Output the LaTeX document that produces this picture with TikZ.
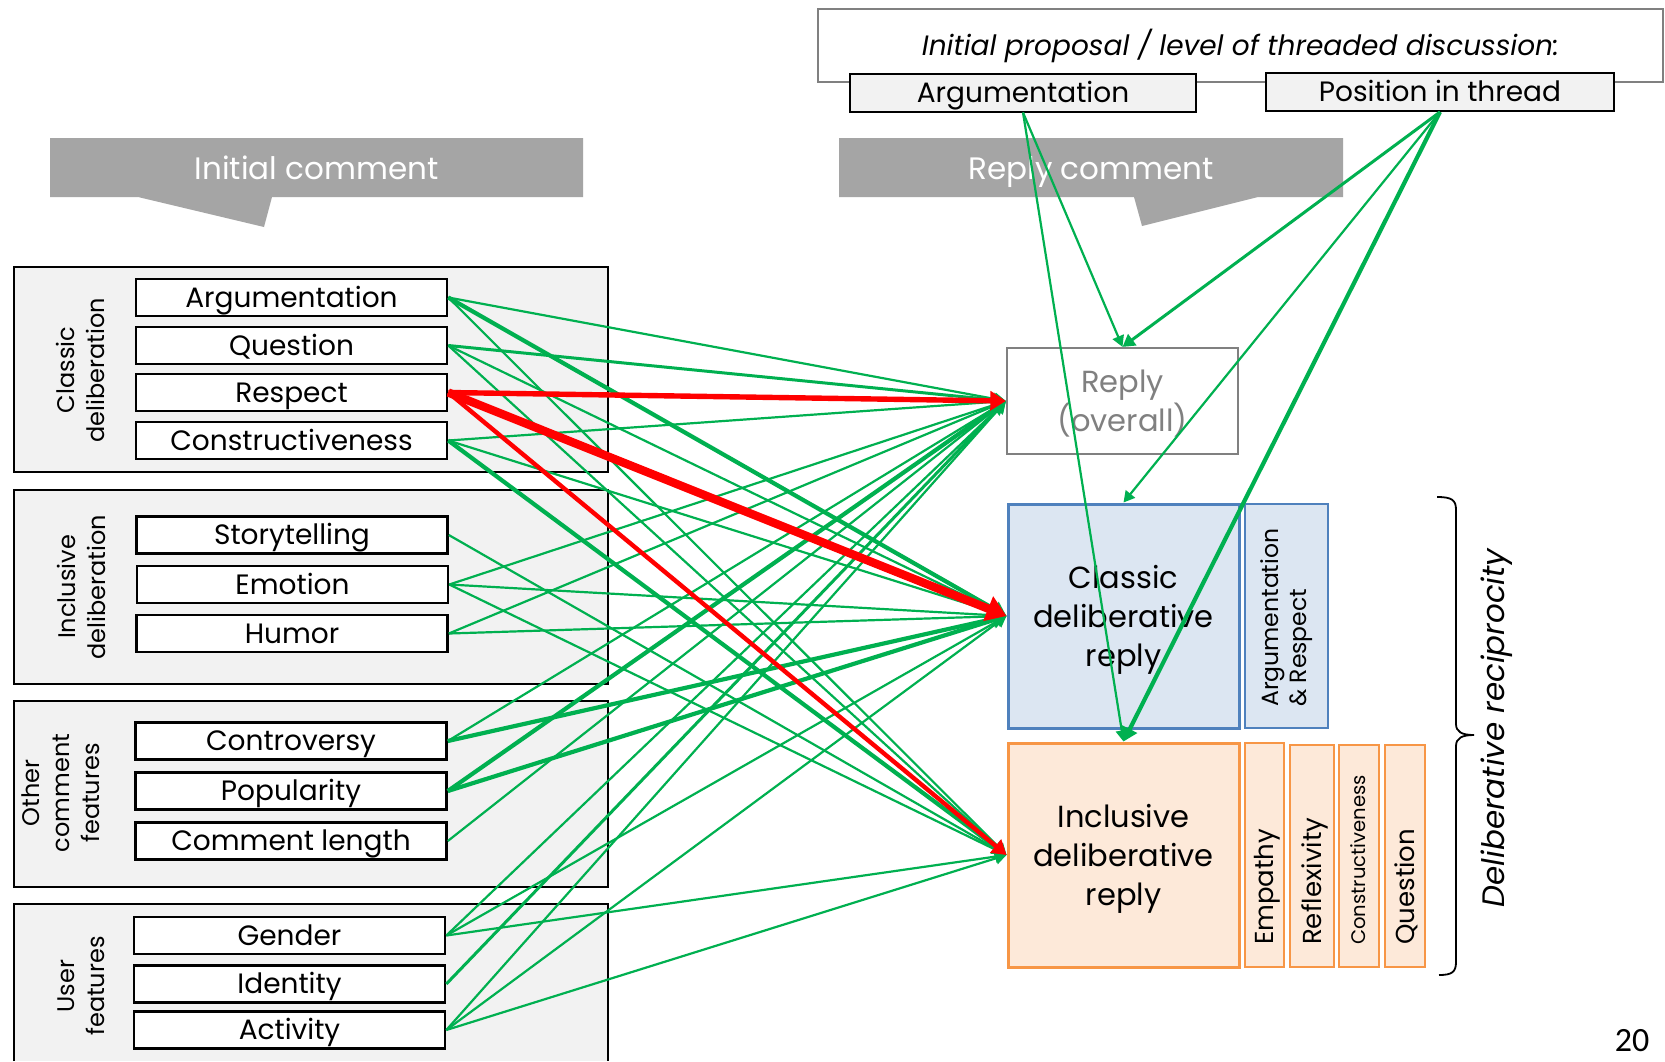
\documentclass[tikz,border=0pt]{standalone}
\usepackage{fontspec}
\setmainfont{Poppins}
\newfontfamily\pagenofont{Carlito}
\usetikzlibrary{arrows.meta}

\definecolor{linkgreen}{RGB}{0,176,80}
\definecolor{linkred}{RGB}{255,0,0}
\definecolor{panelgray}{RGB}{242,242,242}
\definecolor{bannergray}{RGB}{165,165,165}
\definecolor{framegray}{RGB}{128,128,128}
\definecolor{classicfill}{RGB}{220,230,242}
\definecolor{classicedge}{RGB}{79,129,189}
\definecolor{inclfill}{RGB}{253,233,217}
\definecolor{incledge}{RGB}{247,150,70}

\newcommand\fItem{\fontsize{28}{32}\selectfont}
\newcommand\fGroup{\fontsize{24}{30}\selectfont}
\newcommand\fBanner{\fontsize{31}{38}\selectfont}
\newcommand\fOutcome{\fontsize{30.5}{39}\selectfont}
\newcommand\fSub{\fontsize{26}{30}\selectfont}
\newcommand\fSubSmall{\fontsize{19.6}{24}\selectfont}
\newcommand\fPair{\fontsize{23.5}{28}\selectfont}
\newcommand\fTitle{\fontsize{28}{32}\selectfont\itshape}
\newcommand\fSide{\fontsize{31}{36}\selectfont\itshape}

\begin{document}
\begin{tikzpicture}[x=1pt,y=-1pt,
  panel/.style={draw=black,line width=2pt,fill=panelgray},
  itembox/.style={draw=black,line width=2.6pt,fill=white,minimum width=311pt,minimum height=37pt,inner sep=0pt,text height=19.5pt,text depth=0pt,font=\fItem},
  topbox/.style={draw=black,line width=2pt,fill=panelgray,minimum height=38pt,inner sep=0pt,text height=19.5pt,text depth=0pt,font=\fItem},
  grouplabel/.style={rotate=90,align=center,font=\fGroup},
  bannertext/.style={text=white,font=\fBanner,inner sep=0pt,text height=22pt,text depth=0pt},
  outcome/.style={minimum width=231pt,inner sep=0pt},
  outcometext/.style={inner sep=0pt,align=center,font=\fOutcome},
  subbox/.style={line width=2pt},
  subtext/.style={rotate=90,anchor=west,inner sep=0pt,text height=18pt,text depth=0pt},
  link/.style={-{Triangle[length=8pt 1.4,width=7pt 2.2]}},
  gA/.style={link,draw=linkgreen,line width=2.2pt},
  gB/.style={link,draw=linkgreen,line width=3pt},
  gC/.style={link,draw=linkgreen,line width=4.2pt},
  rA/.style={link,draw=linkred,line width=4.4pt},
  rB/.style={link,draw=linkred,line width=5.4pt},
  rC/.style={link,draw=linkred,line width=8.4pt}]

\fill[white] (0,0) rectangle (1665,1061);
\useasboundingbox (0,0) rectangle (1665,1061);

% context of the thread
\node[draw=framegray,line width=2pt,fill=white,minimum width=845pt,minimum height=73pt,inner sep=0pt,text height=19.5pt,text depth=0pt,font=\fTitle] (ctx) at (1240.5,45.5) {Initial proposal / level of threaded discussion:};
\node[topbox,minimum width=346pt] (argTop) at (1023,92.5) {Argumentation};
\node[topbox,minimum width=348pt] (posTop) at (1440,92) {Position in thread};

% callout banners
\fill[bannergray] (50,138) -- (583,138) -- (583,197) -- (272,197) -- (264,227) -- (138,197) -- (50,197) -- cycle;
\node[bannertext] (initHead) at (316.5,168) {Initial comment};
\fill[bannergray] (839,138) -- (1343,138) -- (1343,197) -- (1258,197) -- (1142,226) -- (1134,197) -- (839,197) -- cycle;
\node[bannertext] (replyHead) at (1091,168) {Reply comment};

% predictor panels
\draw[panel] (14,267) rectangle (608,472);
\draw[panel] (14,490) rectangle (608,684);
\draw[panel] (14,701) rectangle (608,887);
\fill[panelgray] (14,904) rectangle (608,1061);
\draw[line width=2pt] (14,1061) -- (14,904) -- (608,904) -- (608,1061);

\node[grouplabel] (gClassic) at (80,370) {Classic\\deliberation};
\node[grouplabel] (gIncl) at (81,587) {Inclusive\\deliberation};
\node[grouplabel] (gOther) at (61,793) {Other\\comment\\features};
\node[grouplabel] (gUser) at (81,986) {User\\features};

\node[itembox] (arg) at (291.5,297.5) {Argumentation};
\node[itembox] (ques) at (291.5,345.5) {Question};
\node[itembox] (resp) at (291.5,392.5) {Respect};
\node[itembox] (cons) at (291.5,440.5) {Constructiveness};
\node[itembox] (story) at (292,535) {Storytelling};
\node[itembox] (emo) at (292.5,584.5) {Emotion};
\node[itembox] (hum) at (292,633.5) {Humor};
\node[itembox] (contr) at (291,741) {Controversy};
\node[itembox] (pop) at (291,791) {Popularity};
\node[itembox] (clen) at (291,841) {Comment length};
\node[itembox] (gend) at (289.5,935.5) {Gender};
\node[itembox] (ident) at (289.5,984) {Identity};
\node[itembox] (activ) at (289.5,1030) {Activity};

% outcome boxes
\node[outcome,draw=framegray,line width=2.2pt,fill=white,minimum height=106pt] (replyAll) at (1122.5,401) {};
\node[outcometext,text=framegray] (replyAllTxt) at (1122.5,404) {Reply\\(overall)};
\node[outcome,draw=classicedge,line width=3pt,fill=classicfill,minimum height=224pt] (classicR) at (1123.5,616) {};
\node[outcometext] (classicTxt) at (1123.5,620) {Classic\\deliberative\\reply};
\node[outcome,draw=incledge,line width=3pt,fill=inclfill,minimum height=224pt] (inclR) at (1123.5,855) {};
\node[outcometext] (inclTxt) at (1123.5,859) {Inclusive\\deliberative\\reply};

\draw[subbox,draw=classicedge,fill=classicfill] (1245,504) rectangle (1328,728);
\node[rotate=90,anchor=west,align=left,font=\fPair,inner sep=0pt] (pairLbl) at (1287,707) {Argumentation\\\& Respect};
\draw[subbox,draw=incledge,fill=inclfill] (1245,743) rectangle (1284,967);
\draw[subbox,draw=incledge,fill=inclfill] (1290,745) rectangle (1334,967);
\draw[subbox,draw=incledge,fill=inclfill] (1339,745) rectangle (1379,967);
\draw[subbox,draw=incledge,fill=inclfill] (1385,745) rectangle (1425,967);
\node[subtext,font=\fSub] (empLbl) at (1264.5,945) {Empathy};
\node[subtext,font=\fSub] (refLbl) at (1312,945) {Reflexivity};
\node[subtext,font=\fSubSmall,text height=13.5pt] (conLbl) at (1359,945) {Constructiveness};
\node[subtext,font=\fSub] (queLbl) at (1405,945) {Question};

% brace and side label
\draw[line width=1.8pt] (1437,497) .. controls (1452,497) and (1456,500) .. (1456,510) -- (1456,724)
  .. controls (1456,732) and (1462,735) .. (1474,735) .. controls (1462,735) and (1456,738) .. (1456,746)
  -- (1456,962) .. controls (1456,972) and (1452,975) .. (1439,975);
\node[rotate=90,font=\fSide] (sideLbl) at (1497,728) {Deliberative reciprocity};
\node[font=\pagenofont\fontsize{34}{40}\selectfont] (pageNo) at (1632,1041) {20};

% effects of the initial comment
\foreach \s/\t/\k in {arg/replyAll/gA, arg/classicR/gC, arg/inclR/gA,
  ques/replyAll/gB, ques/classicR/gA, ques/inclR/gA,
  cons/replyAll/gA, cons/classicR/gA, cons/inclR/gC,
  story/inclR/gA,
  emo/replyAll/gA, emo/classicR/gA, emo/inclR/gA,
  hum/replyAll/gA, hum/classicR/gA,
  contr/replyAll/gA, contr/classicR/gC,
  pop/replyAll/gC, pop/classicR/gC,
  clen/replyAll/gA,
  gend/replyAll/gA, gend/classicR/gA, gend/inclR/gA,
  ident/replyAll/gB,
  activ/replyAll/gA, activ/classicR/gA, activ/inclR/gA}
  \draw[\k] (\s.east) -- (\t.west);
\draw[rB] (resp.east) -- (replyAll.west);
\draw[rA] (resp.east) -- (inclR.west);
\draw[rC] (resp.east) -- (classicR.west);

% effects of the thread context
\draw[gA] (argTop.south) -- (replyAll.north);
\draw[gA] (argTop.south) -- (inclR.north);
\draw[gB] (posTop.south) -- (replyAll.north);
\draw[gA] (posTop.south) -- (classicR.north);
\draw[gC] (posTop.south) -- (inclR.north);
\end{tikzpicture}
\end{document}
